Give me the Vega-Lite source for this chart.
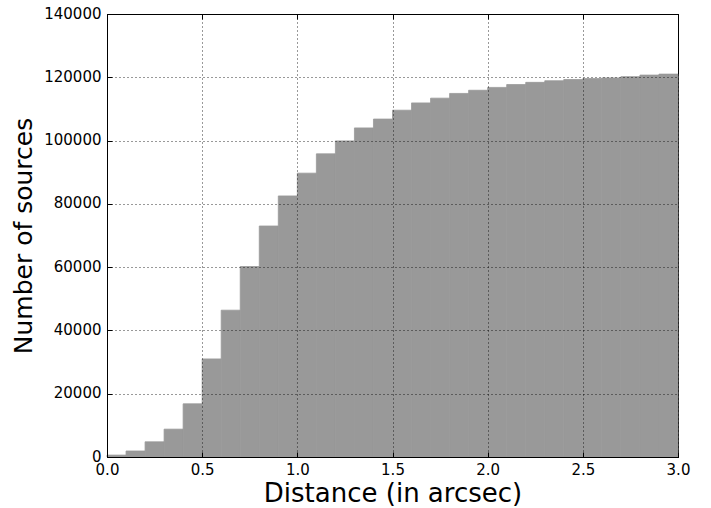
{
  "$schema": "https://vega.github.io/schema/vega-lite/v6.json",
  "width": 571,
  "height": 443,
  "autosize": "none",
  "padding": {"left": 107, "top": 14, "right": 33, "bottom": 51},
  "background": "white",
  "config": {
    "font": "DejaVu Sans",
    "view": {"stroke": "black", "strokeWidth": 1},
    "axis": {
      "domainColor": "black",
      "tickColor": "black",
      "labelColor": "black",
      "titleColor": "black",
      "labelFont": "DejaVu Sans",
      "titleFont": "DejaVu Sans",
      "labelFontSize": 15,
      "titleFontSize": 26,
      "titleFontWeight": "normal",
      "labelFlush": false,
      "tickSize": -5,
      "gridColor": "black",
      "gridDash": [1, 3],
      "gridWidth": 1,
      "gridOpacity": 0.8
    }
  },
  "data": {
    "values": [
      {"bin_start": 0.0, "bin_end": 0.1, "count": 600},
      {"bin_start": 0.1, "bin_end": 0.2, "count": 1900},
      {"bin_start": 0.2, "bin_end": 0.3, "count": 4800},
      {"bin_start": 0.3, "bin_end": 0.4, "count": 8800},
      {"bin_start": 0.4, "bin_end": 0.5, "count": 16800},
      {"bin_start": 0.5, "bin_end": 0.6, "count": 31000},
      {"bin_start": 0.6, "bin_end": 0.7, "count": 46400},
      {"bin_start": 0.7, "bin_end": 0.8, "count": 60200},
      {"bin_start": 0.8, "bin_end": 0.9, "count": 73000},
      {"bin_start": 0.9, "bin_end": 1.0, "count": 82500},
      {"bin_start": 1.0, "bin_end": 1.1, "count": 89700},
      {"bin_start": 1.1, "bin_end": 1.2, "count": 95800},
      {"bin_start": 1.2, "bin_end": 1.3, "count": 99900},
      {"bin_start": 1.3, "bin_end": 1.4, "count": 104000},
      {"bin_start": 1.4, "bin_end": 1.5, "count": 106800},
      {"bin_start": 1.5, "bin_end": 1.6, "count": 109600},
      {"bin_start": 1.6, "bin_end": 1.7, "count": 111900},
      {"bin_start": 1.7, "bin_end": 1.8, "count": 113400},
      {"bin_start": 1.8, "bin_end": 1.9, "count": 114900},
      {"bin_start": 1.9, "bin_end": 2.0, "count": 115900},
      {"bin_start": 2.0, "bin_end": 2.1, "count": 116800},
      {"bin_start": 2.1, "bin_end": 2.2, "count": 117700},
      {"bin_start": 2.2, "bin_end": 2.3, "count": 118400},
      {"bin_start": 2.3, "bin_end": 2.4, "count": 118900},
      {"bin_start": 2.4, "bin_end": 2.5, "count": 119300},
      {"bin_start": 2.5, "bin_end": 2.6, "count": 119600},
      {"bin_start": 2.6, "bin_end": 2.7, "count": 119800},
      {"bin_start": 2.7, "bin_end": 2.8, "count": 120200},
      {"bin_start": 2.8, "bin_end": 2.9, "count": 120700},
      {"bin_start": 2.9, "bin_end": 3.0, "count": 121000}
    ]
  },
  "layer": [
    {
      "mark": {"type": "rect", "fill": "#999999", "stroke": "#999999", "strokeWidth": 0.8},
      "encoding": {
        "x": {
          "field": "bin_start",
          "type": "quantitative",
          "scale": {"domain": [0, 3], "nice": false, "zero": false},
          "axis": {
            "orient": "bottom",
            "values": [0, 0.5, 1, 1.5, 2, 2.5, 3],
            "format": ".1f",
            "title": "Distance (in arcsec)",
            "labelPadding": 10,
            "titlePadding": 3,
            "grid": true,
            "zindex": 1
          }
        },
        "x2": {"field": "bin_end"},
        "y": {
          "field": "count",
          "type": "quantitative",
          "scale": {"domain": [0, 140000], "nice": false},
          "axis": {
            "orient": "left",
            "values": [0, 20000, 40000, 60000, 80000, 100000, 120000, 140000],
            "format": "d",
            "title": "Number of sources",
            "titleFontSize": 25,
            "labelPadding": 11,
            "labelOffset": -1,
            "titlePadding": 7,
            "grid": true,
            "zindex": 1
          }
        },
        "y2": {"datum": 0}
      }
    },
    {
      "mark": {"type": "rect", "opacity": 0},
      "encoding": {
        "x": {
          "field": "bin_start",
          "type": "quantitative",
          "axis": {
            "orient": "top",
            "values": [0, 0.5, 1, 1.5, 2, 2.5, 3],
            "labels": false,
            "title": null,
            "grid": false
          }
        },
        "x2": {"field": "bin_end"},
        "y": {
          "field": "count",
          "type": "quantitative",
          "axis": {
            "orient": "right",
            "values": [0, 20000, 40000, 60000, 80000, 100000, 120000, 140000],
            "labels": false,
            "title": null,
            "grid": false
          }
        },
        "y2": {"datum": 0}
      }
    }
  ],
  "resolve": {"axis": {"x": "independent", "y": "independent"}}
}
